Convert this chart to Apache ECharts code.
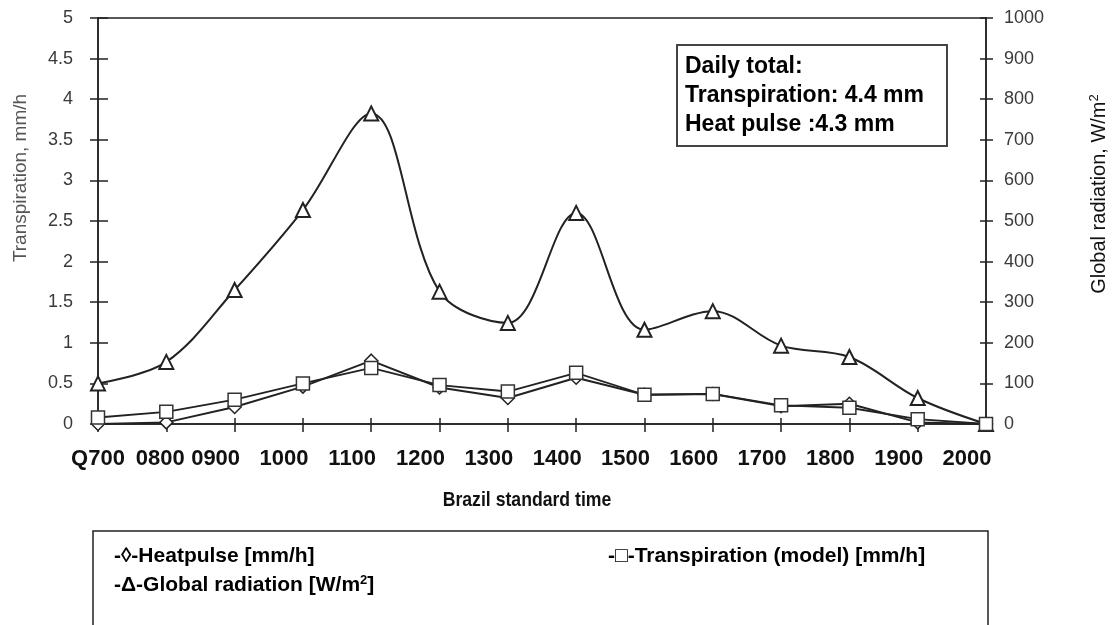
<!DOCTYPE html>
<html>
<head>
<meta charset="utf-8">
<script src="https://cdn.jsdelivr.net/npm/echarts@6/dist/echarts.min.js"></script>
<style>html,body{margin:0;padding:0;background:#fff;}#c{width:1113px;height:625px;}</style>
</head>
<body>
<div id="c"></div>
<script>
const categories = ['0700','0800','0900','1000','1100','1200','1300','1400','1500','1600','1700','1800','1900','2000'];
const tickLabels = ['Q700','0800','0900','1000','1100','1200','1300','1400','1500','1600','1700','1800','1900','2000'];
const heatpulse = [0.00, 0.02, 0.21, 0.46, 0.78, 0.45, 0.32, 0.57, 0.36, 0.37, 0.22, 0.25, 0.02, 0.00];
const transpiration = [0.08, 0.15, 0.30, 0.50, 0.69, 0.48, 0.40, 0.63, 0.36, 0.37, 0.23, 0.20, 0.06, 0.00];
const radiation = [100, 153, 330, 527, 765, 326, 249, 520, 232, 278, 193, 165, 64, 0];
const leftTicks = [0, 0.5, 1, 1.5, 2, 2.5, 3, 3.5, 4, 4.5, 5];
const rightTicks = [0, 100, 200, 300, 400, 500, 600, 700, 800, 900, 1000];

const chart = echarts.init(document.getElementById('c'));
const F = 'Arial, "Liberation Sans", sans-serif';
const tickFont = {fontFamily: F, fontSize: 18, color: '#3a3a3a'};
const xl = {fontFamily: F, fontSize: 22, fontWeight: 'bold', color: '#111'};

chart.setOption({
  animation: false,
  grid: {left: 98, right: 127, top: 18, bottom: 201, show: true, borderColor: '#222', borderWidth: 1.5, backgroundColor: 'transparent'},
  xAxis: [{
    type: 'category', data: categories, boundaryGap: false, position: 'bottom',
    axisLine: {lineStyle: {color: '#222', width: 1.5}},
    axisTick: {show: true, length: 8, lineStyle: {color: '#222', width: 1.5}},
    axisLabel: {
      margin: 24, interval: 0,
      formatter: (v, i) => (i === 0 ? '{q|' : i === 1 ? '{b|' : '{a|') + tickLabels[i] + '}',
      rich: {
        q: Object.assign({}, xl),
        b: Object.assign({padding: [0, 12, 0, 0]}, xl),
        a: Object.assign({padding: [0, 38, 0, 0]}, xl)
      }
    },
    splitLine: {show: false}
  }, {
    type: 'category', data: categories, boundaryGap: false, position: 'bottom',
    axisLine: {show: false},
    axisTick: {show: true, inside: true, length: 6, lineStyle: {color: '#222', width: 1.5}},
    axisLabel: {show: false}, splitLine: {show: false}
  }],
  yAxis: [{
    type: 'value', min: 0, max: 5, interval: 0.5, position: 'left',
    axisLine: {show: true, lineStyle: {color: '#222', width: 1.5}},
    axisTick: {show: true, length: 8, lineStyle: {color: '#222', width: 1.5}},
    axisLabel: Object.assign({margin: 25, formatter: v => String(v)}, tickFont),
    splitLine: {show: false}
  }, {
    type: 'value', min: 0, max: 1000, interval: 100, position: 'right',
    axisLine: {show: true, lineStyle: {color: '#222', width: 1.5}},
    axisTick: {show: true, length: 7, lineStyle: {color: '#222', width: 1.5}},
    axisLabel: Object.assign({margin: 18, formatter: v => String(v)}, tickFont),
    splitLine: {show: false}
  }, {
    type: 'value', min: 0, max: 5, interval: 0.5, position: 'left',
    axisLine: {show: false}, axisLabel: {show: false}, splitLine: {show: false},
    axisTick: {show: true, inside: true, length: 10, lineStyle: {color: '#222', width: 1.5}}
  }, {
    type: 'value', min: 0, max: 1000, interval: 100, position: 'right',
    axisLine: {show: false}, axisLabel: {show: false}, splitLine: {show: false},
    axisTick: {show: true, inside: true, length: 6, lineStyle: {color: '#222', width: 1.5}}
  }],
  series: [{
    name: 'Global radiation', type: 'line', yAxisIndex: 1, data: radiation,
    smooth: 0.35, symbol: 'triangle', symbolSize: 14,
    lineStyle: {color: '#222', width: 2},
    itemStyle: {color: '#fff', borderColor: '#222', borderWidth: 2}, z: 3
  }, {
    name: 'Heatpulse', type: 'line', yAxisIndex: 0, data: heatpulse,
    symbol: 'diamond', symbolSize: 13,
    lineStyle: {color: '#222', width: 2},
    itemStyle: {color: '#fff', borderColor: '#222', borderWidth: 1.5}, z: 3
  }, {
    name: 'Transpiration (model)', type: 'line', yAxisIndex: 0, data: transpiration,
    symbol: 'rect', symbolSize: 13,
    lineStyle: {color: '#222', width: 1.8},
    itemStyle: {color: '#fff', borderColor: '#333', borderWidth: 1.5}, z: 4
  }],
  graphic: [
    {type: 'text', x: 21, y: 178, rotation: Math.PI / 2,
     style: {text: 'Transpiration, mm/h', fontFamily: F, fontSize: 19, fill: '#555', align: 'center', verticalAlign: 'middle'}},
    {type: 'text', x: 1099, y: 194, rotation: Math.PI / 2,
     style: {text: 'Global radiation, W/m{s|2}', fontFamily: F, fontSize: 20, fill: '#111', align: 'center', verticalAlign: 'middle',
       rich: {s: {fontFamily: F, fontSize: 13, fill: '#111', verticalAlign: 'top', padding: [0, 0, 10, 0]}}}},
    {type: 'text', x: 527, y: 500, scaleX: 0.84,
     style: {text: 'Brazil standard time', fontFamily: F, fontSize: 21, fontWeight: 'bold', fill: '#111', align: 'center', verticalAlign: 'middle'}},
    {type: 'rect', shape: {x: 677, y: 45, width: 270, height: 101},
     style: {fill: '#fff', stroke: '#444', lineWidth: 2}, z: 10},
    {type: 'text', x: 685, y: 67, z: 11,
     style: {text: 'Daily total:', fontFamily: F, fontSize: 23, fontWeight: 'bold', fill: '#000', verticalAlign: 'middle'}},
    {type: 'text', x: 685, y: 96, z: 11,
     style: {text: 'Transpiration: 4.4 mm', fontFamily: F, fontSize: 23, fontWeight: 'bold', fill: '#000', verticalAlign: 'middle'}},
    {type: 'text', x: 685, y: 125, z: 11,
     style: {text: 'Heat pulse :4.3 mm', fontFamily: F, fontSize: 23, fontWeight: 'bold', fill: '#000', verticalAlign: 'middle'}},
    {type: 'rect', shape: {x: 93, y: 531, width: 895, height: 130},
     style: {fill: 'transparent', stroke: '#222', lineWidth: 1.5}},
    {type: 'text', x: 114, y: 556,
     style: {text: '-\u25CA-Heatpulse [mm/h]', fontFamily: F, fontSize: 21, fontWeight: 'bold', fill: '#000', verticalAlign: 'middle'}},
    {type: 'text', x: 608, y: 556,
     style: {text: '-\u25A1-Transpiration (model) [mm/h]', fontFamily: F, fontSize: 21, fontWeight: 'bold', fill: '#000', verticalAlign: 'middle'}},
    {type: 'text', x: 114, y: 585,
     style: {text: '-\u0394-Global radiation [W/m{s|2}]', fontFamily: F, fontSize: 21, fontWeight: 'bold', fill: '#000', verticalAlign: 'middle',
       rich: {s: {fontFamily: F, fontSize: 13, fontWeight: 'bold', fill: '#000', verticalAlign: 'top', padding: [0, 0, 9, 0]}}}}
  ]
});
</script>
</body>
</html>
